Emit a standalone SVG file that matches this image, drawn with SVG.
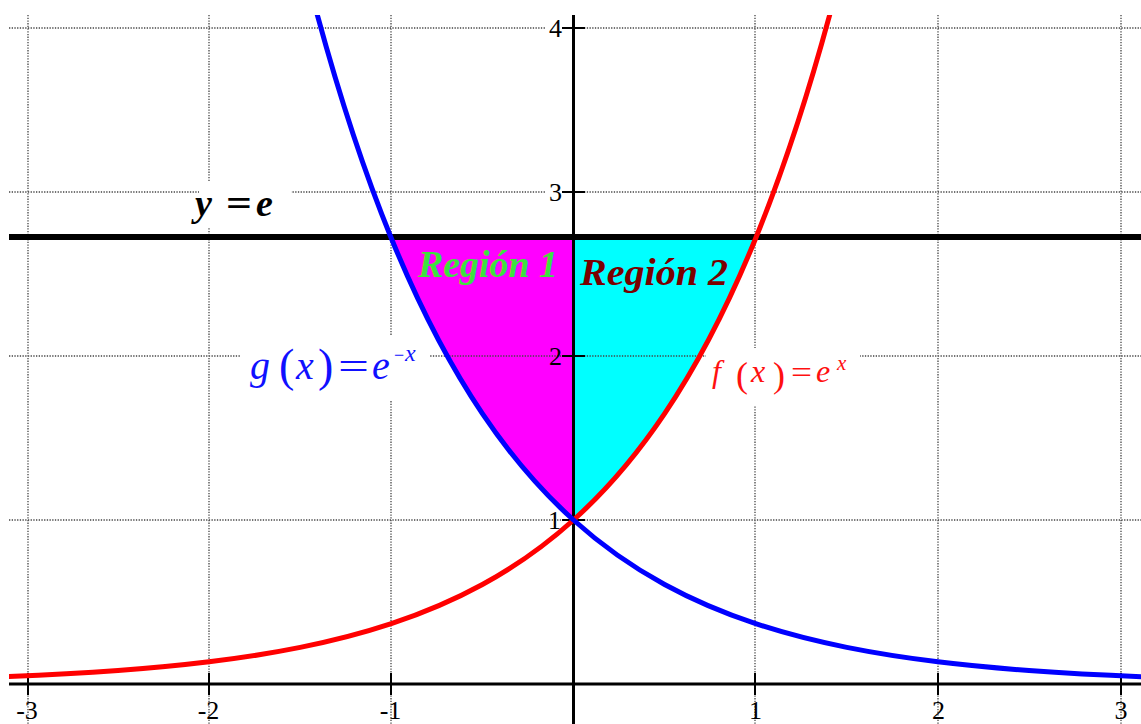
<svg xmlns="http://www.w3.org/2000/svg" width="1141" height="724" viewBox="0 0 1141 724">
<style>
.grid{stroke:#444;stroke-width:1.3;stroke-dasharray:1.3 1.4;fill:none}
.axis{stroke:#000;stroke-width:3;fill:none}
.tick{stroke:#000;stroke-width:2;fill:none}
.tl{font-family:"Liberation Serif","Times New Roman",serif;font-size:26px;fill:#000}
.it{font-family:"Liberation Serif","Times New Roman",serif;font-style:italic}
.up{font-family:"Liberation Serif","Times New Roman",serif}
.reg{font-family:"Liberation Serif","Times New Roman",serif;font-style:italic;font-weight:bold;font-size:37px}
</style>
<defs>
<path id="exp" fill="none" stroke-width="5" vector-effect="non-scaling-stroke" stroke-linejoin="round" d="M -3.15 0.042852 C -2.93333 0.052137 -2.71667 0.064300 -2.5 0.082085 C -2.33333 0.095766 -2.16667 0.112779 -2 0.135335 C -1.83333 0.157891 -1.66667 0.185942 -1.5 0.223130 C -1.33333 0.260318 -1.16667 0.306566 -1 0.367879 C -0.83333 0.429192 -0.66667 0.505443 -0.5 0.606531 C -0.33333 0.707620 -0.16667 0.83333 0 1 C 0.16667 1.16667 0.33333 1.373934 0.5 1.648721 C 0.66667 1.923508 0.83333 2.265235 1 2.718282 C 1.15 3.126024 1.3 3.623644 1.45 4.26311"/>
<path id="half" stroke="none" d="M 0 1 C 0.16667 1.16667 0.33333 1.373934 0.5 1.648721 C 0.66667 1.923508 0.83333 2.265235 1 2.718282 L 0 2.718282 Z"/>
<clipPath id="plot"><rect x="9" y="15" width="1132" height="709"/></clipPath>
</defs>
<rect width="1141" height="724" fill="#fff"/>

<g id="regions" clip-path="url(#plot)">
 <g transform="matrix(182.2 0 0 -164 573.5 684)">
  <use href="#half" fill="#00FFFF"/>
  <use href="#half" fill="#FF00FF" transform="scale(-1 1)"/>
 </g>
</g>

<g id="grid">
 <path class="grid" d="M9 28H1141M9 192H1141M9 356H1141M9 520H1141M28 15V724M209 15V724M391 15V724M755 15V724M938 15V724M1121 15V724"/>
 <g fill="#fff">
  <rect x="199" y="182" width="92" height="46"/>
  <rect x="240" y="335" width="190" height="65"/>
  <rect x="706" y="348" width="154" height="57"/>
  <rect x="545" y="17" width="17" height="22"/>
  <rect x="545" y="181" width="17" height="22"/>
 </g>
</g>

<g id="axes">
 <path class="axis" d="M573.5 15V724M9 684H1141"/>
 <path class="tick" d="M28 673V695M209 673V695M391 673V695M755 673V695M938 673V695M1121 673V695M562 28H585M562 192H585M562 356H585M562 520H585"/>
 <path id="line-e" d="M9 237H1141" stroke="#000" stroke-width="6"/>
</g>

<g id="curves" clip-path="url(#plot)">
 <g transform="matrix(182.2 0 0 -164 573.5 684)">
  <use id="f-curve" href="#exp" stroke="#FF0000"/>
  <use id="g-curve" href="#exp" stroke="#0000FF" transform="scale(-1 1)"/>
 </g>
</g>

<g id="ticklabels" class="tl">
 <text x="27" y="719" text-anchor="middle">-3</text>
 <text x="208.5" y="719" text-anchor="middle">-2</text>
 <text x="390.5" y="719" text-anchor="middle">-1</text>
 <text x="755.5" y="719" text-anchor="middle">1</text>
 <text x="938.5" y="719" text-anchor="middle">2</text>
 <text x="1121" y="719" text-anchor="middle">3</text>
 <text x="562" y="37" text-anchor="end">4</text>
 <text x="562" y="201" text-anchor="end">3</text>
 <text x="562" y="365" text-anchor="end">2</text>
 <text x="561" y="529" text-anchor="end">1</text>
</g>

<g id="label-ye" fill="#000" font-weight="bold">
 <text class="it" x="195" y="216" font-size="38">y</text>
 <text class="up" x="226" y="216" font-size="38" textLength="26" lengthAdjust="spacingAndGlyphs">=</text>
 <text class="it" x="256" y="216" font-size="38">e</text>
</g>

<g id="label-g" fill="#1010FF">
 <text class="it" x="250" y="379" font-size="40">g</text>
 <text class="up" x="279" y="381" font-size="46">(</text>
 <text class="it" x="296" y="379" font-size="40">x</text>
 <text class="up" x="318" y="381" font-size="46">)</text>
 <text class="up" x="338" y="380" font-size="40" textLength="31" lengthAdjust="spacingAndGlyphs">=</text>
 <text class="it" x="372" y="379" font-size="40">e</text>
 <text class="up" x="394" y="361" font-size="18">−</text>
 <text class="it" x="405" y="361" font-size="24">x</text>
</g>

<g id="label-f" fill="#FF1010">
 <text class="it" x="712" y="382" font-size="32">f</text>
 <text class="up" x="736" y="387" font-size="36">(</text>
 <text class="it" x="751" y="382" font-size="32">x</text>
 <text class="up" x="773" y="387" font-size="36">)</text>
 <text class="up" x="791" y="383" font-size="32" textLength="21" lengthAdjust="spacingAndGlyphs">=</text>
 <text class="it" x="816" y="382" font-size="32">e</text>
 <text class="it" x="837" y="370" font-size="21">x</text>
</g>

<g id="region-labels">
 <text class="reg" x="418" y="277" fill="#3FE03F" textLength="140" lengthAdjust="spacingAndGlyphs">Región 1</text>
 <text class="reg" x="580" y="285" fill="#7A0000" textLength="148" lengthAdjust="spacingAndGlyphs">Región 2</text>
</g>
</svg>
